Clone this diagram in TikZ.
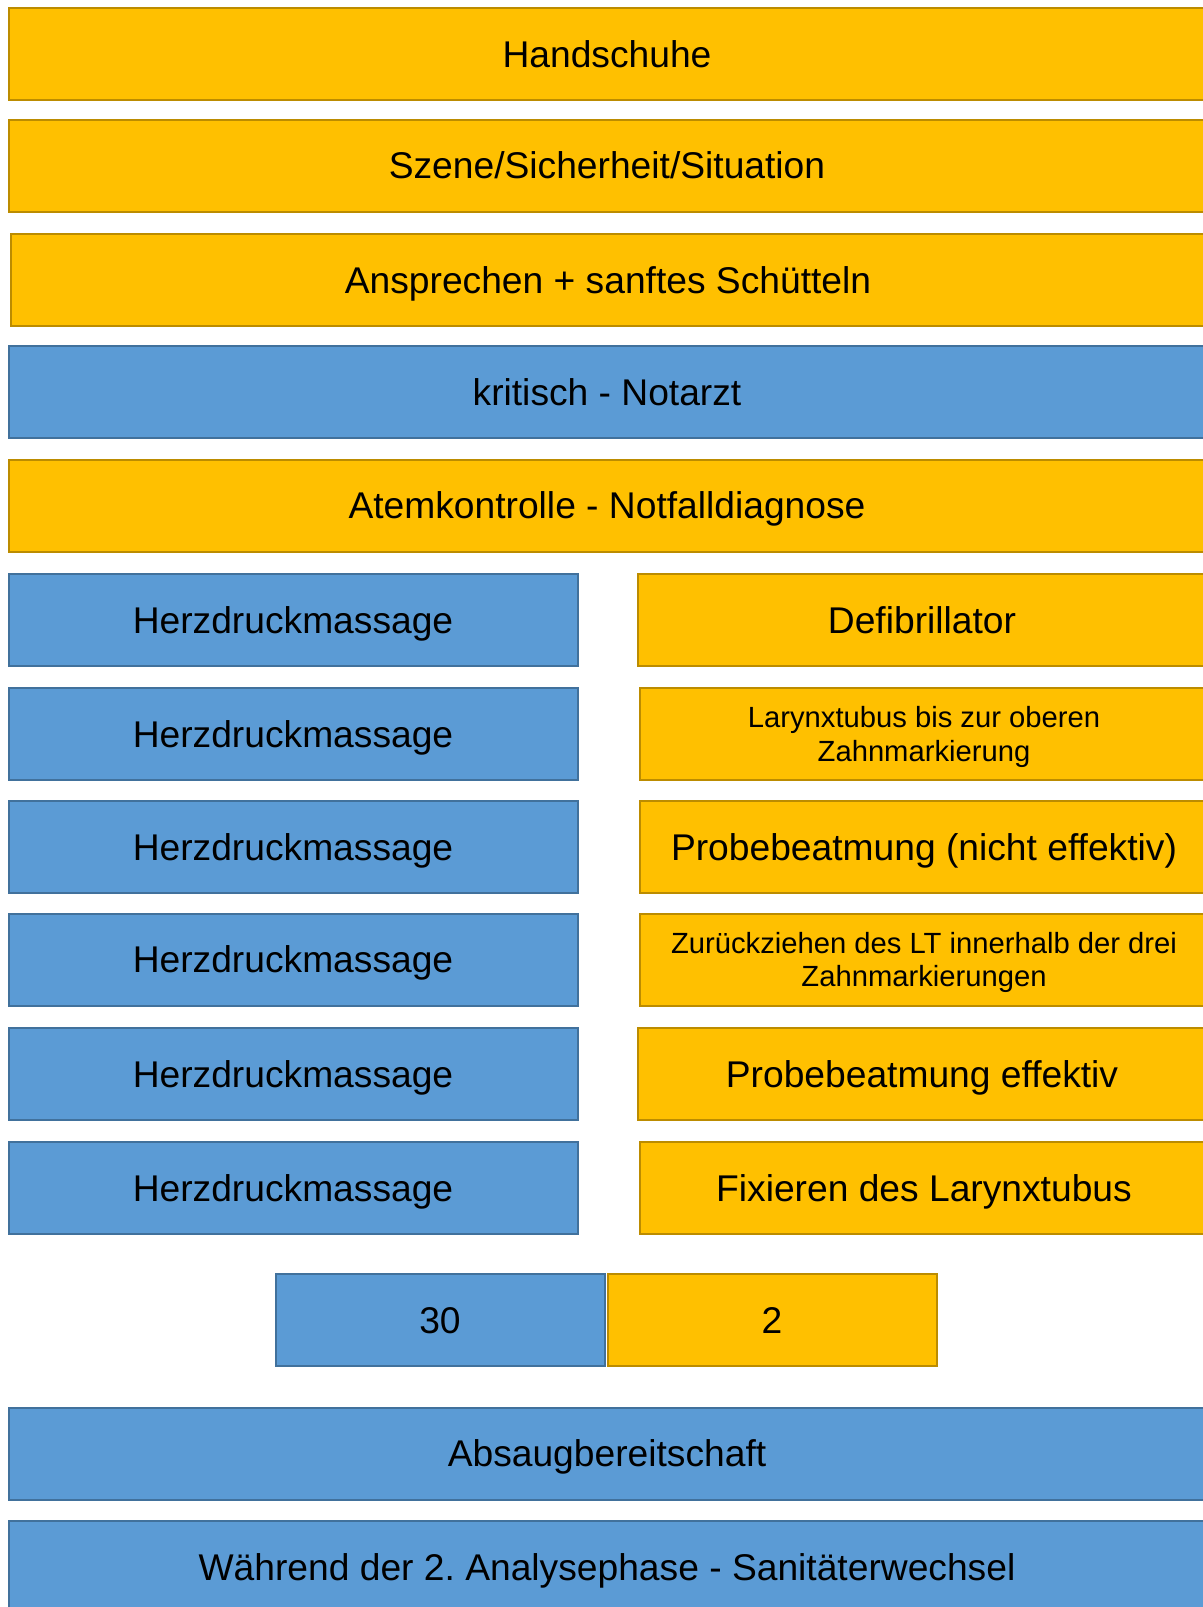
\documentclass[tikz,border=0pt]{standalone}
\usepackage{fontspec}
\setmainfont{Liberation Sans}
\definecolor{cprblue}{HTML}{5B9BD5}
\definecolor{cprblueline}{HTML}{41719C}
\definecolor{cprorange}{HTML}{FFC000}
\definecolor{cprorangeline}{HTML}{BC8C00}
\usetikzlibrary{positioning}
\tikzset{
  cprbox/.style={line width=1pt, inner sep=0pt, minimum height=46pt, text depth=0pt, align=center, font=\fontsize{18.6}{22}\selectfont\frenchspacing},
  bluebox/.style={cprbox, draw=cprblueline, fill=cprblue},
  orangebox/.style={cprbox, draw=cprorangeline, fill=cprorange},
  fullrow/.style={minimum width=598pt},
  halfrow/.style={minimum width=284.5pt},
  ratiobox/.style={minimum width=164.5pt},
  smalltext/.style={font=\fontsize{14.6}{16.9}\selectfont}
}
\begin{document}
\begin{tikzpicture}[x=0.5pt, y=-0.5pt]
  \useasboundingbox (0,0) rectangle (1203,1607);
  % Basic steps
  \node[orangebox, fullrow] (hand) at (607,53.8) {Handschuhe};
  \node[orangebox, fullrow] (szene) at (607,165.5) {Szene/Sicherheit/Situation};
  \node[orangebox, minimum width=597pt] (ansprechen) at (608,279.8) {Ansprechen + sanftes Schütteln};
  \node[bluebox, fullrow] (notarzt) at (607,391.8) {kritisch - Notarzt};
  \node[orangebox, fullrow] (atem) at (607,505.5) {Atemkontrolle - Notfalldiagnose};
  % Left column
  \foreach \y [count=\i] in {620,733.8,847.3,959.5,1074,1187.8}
    \node[bluebox, halfrow] (hdm\i) at (293,\y) {Herzdruckmassage};
  % Right column
  \node[orangebox, halfrow] (defi) at (922,620) {Defibrillator};
  \node[orangebox, halfrow, smalltext] (lt) at (924,733.8) {Larynxtubus bis zur oberen\\Zahnmarkierung};
  \node[orangebox, halfrow] (probe1) at (924,847.3) {Probebeatmung (nicht effektiv)};
  \node[orangebox, halfrow, smalltext] (zurueck) at (924,959.5) {Zurückziehen des LT innerhalb der drei\\Zahnmarkierungen};
  \node[orangebox, halfrow] (probe2) at (922,1074) {Probebeatmung effektiv};
  \node[orangebox, halfrow] (fix) at (924,1187.8) {Fixieren des Larynxtubus};
  % Ratio
  \node[bluebox, ratiobox] (dreissig) at (440,1320) {30};
  \node[orangebox, ratiobox] (zwei) at (772,1320) {2};
  % Closing
  \node[bluebox, fullrow] (absaug) at (607,1453.5) {Absaugbereitschaft};
  \node[bluebox, fullrow] (wechsel) at (607,1567) {Während der 2. Analysephase - Sanitäterwechsel};
\end{tikzpicture}
\end{document}
